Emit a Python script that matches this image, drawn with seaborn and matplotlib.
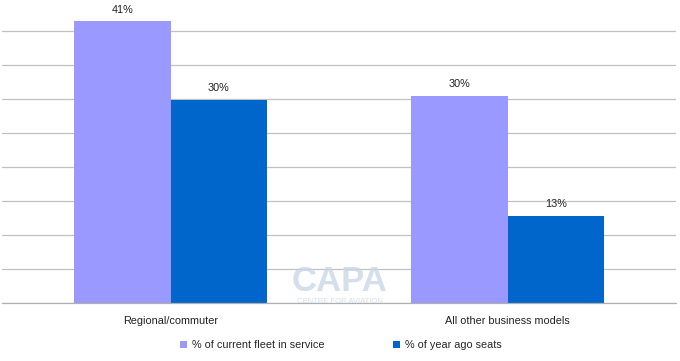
import matplotlib
matplotlib.use("Agg")
import matplotlib.pyplot as plt
import seaborn as sns
import pandas as pd
from matplotlib.ticker import MultipleLocator, FixedLocator

# data
categories = ["Regional/commuter", "All other business models"]
series_names = ["% of current fleet in service", "% of year ago seats"]
fleet_in_service = [41.4, 30.4]
year_ago_seats = [29.8, 12.8]
colors = ["#9999FF", "#0066CC"]

df = pd.DataFrame({
    "category": categories * 2,
    "series": [series_names[0]] * 2 + [series_names[1]] * 2,
    "value": fleet_in_service + year_ago_seats,
})

sns.set_style("white")
plt.rcParams["font.family"] = ["Liberation Sans", "DejaVu Sans"]

fig = plt.figure(figsize=(6.8, 3.61), dpi=100)
ax = fig.add_axes([2 / 680, 1 - 303 / 361, 674 / 680, 303 / 361])

sns.barplot(data=df, x="category", y="value", hue="series", order=categories,
            hue_order=series_names, palette=colors, width=0.573, saturation=1,
            linewidth=0, ax=ax, legend=True)

for container in ax.containers:
    ax.bar_label(container, labels=[f"{v:.0f}%" for v in container.datavalues],
                 padding=5, fontsize=7.8, color="#222222")

ax.set_xlim(-0.5, 1.5)
ax.set_ylim(0, 44.56)
ax.yaxis.set_major_locator(MultipleLocator(5))
ax.set_yticklabels([])
ax.tick_params(axis="y", length=0)
ax.grid(axis="y", color="#C0C0C0", linewidth=0.9)
ax.set_axisbelow(True)
for s in ["top", "right", "left"]:
    ax.spines[s].set_visible(False)
ax.spines["bottom"].set_color("#B0B0B0")
ax.spines["bottom"].set_linewidth(0.9)

ax.xaxis.set_minor_locator(FixedLocator([-0.5, 0.5, 1.5]))
ax.tick_params(axis="x", which="major", length=0, labelsize=7.8, pad=9, colors="#222222")
ax.tick_params(axis="x", which="minor", length=4, color="#B0B0B0", width=0.9)
ax.set_xlabel("")
ax.set_ylabel("")

# watermark
fig.text(340 / 680, 1 - 291 / 361, "CAPA", ha="center", va="baseline", fontsize=25,
         fontweight="bold", color="#C9D7E6", alpha=0.8, zorder=0)
fig.text(340 / 680, 1 - 298 / 361, "CENTRE FOR AVIATION", ha="center", va="top",
         fontsize=5.5, color="#C9D7E6", alpha=0.8, zorder=0)

handles, labels = ax.get_legend_handles_labels()
ax.get_legend().remove()
fig.legend(handles, labels, loc="center", bbox_to_anchor=(341 / 680, 1 - 345 / 361),
           ncol=2, frameon=False, fontsize=7.8, handlelength=0.65, handleheight=0.65,
           handletextpad=0.5, columnspacing=6.3)

plt.savefig("out.png", dpi=100)
plt.close()
